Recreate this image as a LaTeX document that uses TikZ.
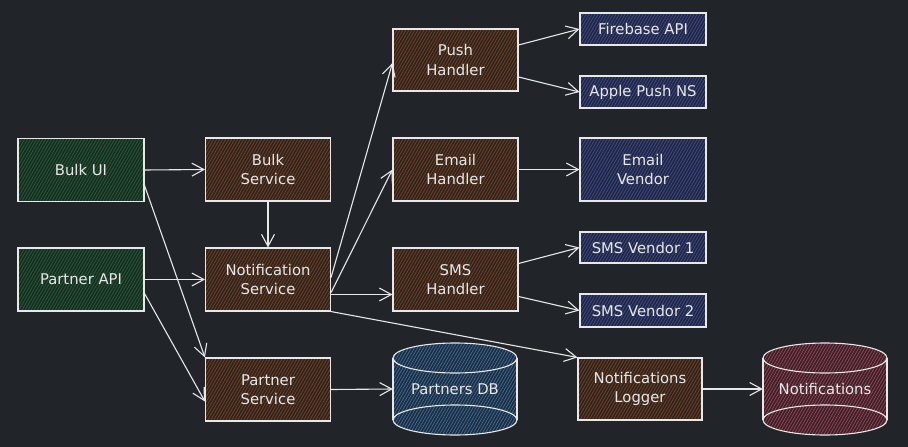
\documentclass[tikz,border=0pt]{standalone}
\usepackage{fontspec}
\setmainfont{DejaVu Sans}
\usetikzlibrary{arrows.meta,patterns.meta}
\definecolor{bg}{HTML}{212529}
\definecolor{ink}{HTML}{E8E8E8}
\definecolor{grnbase}{HTML}{1B2C22}
\definecolor{grnhatch}{HTML}{216038}
\definecolor{brnbase}{HTML}{2B2522}
\definecolor{brnhatch}{HTML}{7E401C}
\definecolor{blubase}{HTML}{22273F}
\definecolor{bluhatch}{HTML}{3E4D92}
\definecolor{dbbase}{HTML}{1F2C3C}
\definecolor{dbhatch}{HTML}{3C70A2}
\definecolor{redbase}{HTML}{33232A}
\definecolor{redhatch}{HTML}{AA4252}
\tikzset{
  hatchfill/.style 2 args={preaction={fill=#1},
    pattern={Lines[angle=60,distance=2.6pt,line width=0.7pt]}, pattern color=#2},
  txt/.style={text=ink, align=center, font=\fontsize{14.8}{19.5}\selectfont},
  box/.style={txt, draw=ink, line width=1.1pt, inner sep=2pt},
  clientbox/.style={box, hatchfill={grnbase}{grnhatch}, minimum width=126pt, minimum height=63pt},
  svcbox/.style={box, hatchfill={brnbase}{brnhatch}, minimum width=125pt, minimum height=63pt},
  vendbox/.style={box, hatchfill={blubase}{bluhatch}, minimum width=126pt},
  dbnode/.style={txt, minimum width=124pt, minimum height=92pt, inner sep=0pt},
  dbline/.style={draw=ink, line width=1.1pt},
  conn/.style={draw=ink, line width=1.1pt, -{Straight Barb[length=12pt,width=13pt,line width=1.1pt]}},
}
\begin{document}
\begin{tikzpicture}[x=1pt,y=-1pt]
\fill[bg] (0,0) rectangle (908,447);
\useasboundingbox (0,0) rectangle (908,447);

% clients
\node[clientbox] (bulkui) at (81,170) {Bulk UI};
\node[clientbox] (partnerapi) at (81,279.5) {Partner API};

% services
\node[svcbox] (bulksvc) at (268,169.5) {Bulk\\Service};
\node[svcbox] (notifsvc) at (268,279.5) {Notification\\Service};
\node[svcbox] (partnersvc) at (268,389.5) {Partner\\Service};

% handlers
\node[svcbox, minimum height=62pt] (push) at (455.5,60) {Push\\Handler};
\node[svcbox] (email) at (455.5,169.5) {Email\\Handler};
\node[svcbox] (sms) at (455.5,279.5) {SMS\\Handler};
\node[svcbox, minimum width=124pt, minimum height=62pt] (logger) at (640,389) {Notifications\\Logger};

% vendors
\node[vendbox, minimum height=32pt] (firebase) at (643,29) {Firebase API};
\node[vendbox, minimum height=32pt] (apple) at (643,92) {Apple Push NS};
\node[vendbox, minimum height=63pt] (emailv) at (643,169.5) {Email\\Vendor};
\node[vendbox, minimum height=31pt] (smsv1) at (643,247.5) {SMS Vendor 1};
\node[vendbox, minimum height=33pt] (smsv2) at (643,310.5) {SMS Vendor 2};

% databases
\fill[hatchfill={dbbase}{dbhatch}] (393,358) rectangle (517,420);
\fill[hatchfill={dbbase}{dbhatch}] (455,358) ellipse [x radius=62, y radius=15];
\fill[hatchfill={dbbase}{dbhatch}] (455,420) ellipse [x radius=62, y radius=15];
\draw[dbline] (455,358) ellipse [x radius=62, y radius=15];
\draw[dbline] (455,420) ellipse [x radius=62, y radius=15];
\draw[dbline] (393,358) -- (393,420) (517,358) -- (517,420);
\node[dbnode] (pdb) at (455,389) {Partners DB};

\fill[hatchfill={redbase}{redhatch}] (763,358) rectangle (887,420);
\fill[hatchfill={redbase}{redhatch}] (825,358) ellipse [x radius=62, y radius=15];
\fill[hatchfill={redbase}{redhatch}] (825,420) ellipse [x radius=62, y radius=15];
\draw[dbline] (825,358) ellipse [x radius=62, y radius=15];
\draw[dbline] (825,420) ellipse [x radius=62, y radius=15];
\draw[dbline] (763,358) -- (763,420) (887,358) -- (887,420);
\node[dbnode] (ndb) at (825,389) {Notifications};

% connectors
\draw[conn] (bulkui.east) -- (bulksvc.west);
\draw[conn] ([yshift=-15pt]bulkui.east) -- (partnersvc.north west);
\draw[conn] (partnerapi.east) -- (notifsvc.west);
\draw[conn] ([yshift=-14pt]partnerapi.east) -- ([yshift=-12pt]partnersvc.west);
\draw[conn] (bulksvc.south) -- (notifsvc.north);
\draw[conn] ([yshift=2pt]notifsvc.east) -- ([yshift=-3pt]push.west);
\draw[conn] ([yshift=-13pt]notifsvc.east) -- (email.west);
\draw[conn] ([yshift=-15pt]notifsvc.east) -- ([yshift=-15pt]sms.west);
\draw[conn] (notifsvc.south east) -- (logger.north west);
\draw[conn] ([yshift=15pt]push.east) -- (firebase.west);
\draw[conn] ([yshift=-17pt]push.east) -- (apple.west);
\draw[conn] (email.east) -- (emailv.west);
\draw[conn] ([yshift=16pt]sms.east) -- (smsv1.west);
\draw[conn] ([yshift=-17pt]sms.east) -- (smsv2.west);
\draw[conn] (partnersvc.east) -- (pdb.west);
\draw[conn] (logger.east) -- (ndb.west);
\end{tikzpicture}
\end{document}
